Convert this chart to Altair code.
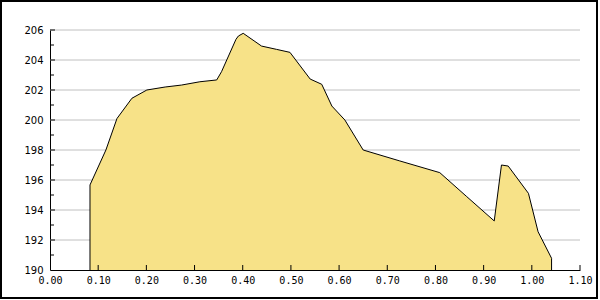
import altair as alt
import pandas as pd

# Profile data
xs = [0.083, 0.083, 0.116, 0.139, 0.170, 0.201, 0.239, 0.273, 0.311, 0.346,
      0.356, 0.386, 0.391, 0.401, 0.439, 0.470, 0.498, 0.540, 0.564, 0.585,
      0.612, 0.650, 0.726, 0.809, 0.865, 0.922, 0.937, 0.951, 0.993, 1.013,
      1.041, 1.041]
ys = [190.0, 195.67, 198.0, 200.1, 201.45, 202.0, 202.2, 202.33, 202.55, 202.67,
      203.22, 205.38, 205.6, 205.78, 204.93, 204.71, 204.51, 202.73, 202.38, 200.93,
      200.0, 198.0, 197.27, 196.49, 194.89, 193.27, 197.0, 196.93, 195.11, 192.55,
      190.78, 190.0]

x_ticks = [0.0, 0.1, 0.2, 0.3, 0.4, 0.5, 0.6, 0.7, 0.8, 0.9, 1.0, 1.1]
y_major = [190, 192, 194, 196, 198, 200, 202, 204, 206]
y_minor = [191, 193, 195, 197, 199, 201, 203, 205]

df = pd.DataFrame({"x": xs, "y": ys, "idx": list(range(len(xs)))})
df_xt = pd.DataFrame({"x": x_ticks[1:]})
df_ymaj = pd.DataFrame({"y": y_major[1:]})
df_ymin = pd.DataFrame({"y": y_minor})

xscale = alt.Scale(domain=[0, 1.1], nice=False, zero=False)
yscale = alt.Scale(domain=[190, 206], nice=False, zero=False)

xaxis = alt.Axis(values=x_ticks, format=".2f", title=None)
yaxis = alt.Axis(values=y_major, format="d", title=None)

grid = alt.Chart(df_ymaj).mark_rule(color="#c0c0c0", strokeWidth=1).encode(
    y=alt.Y("y:Q", scale=yscale, axis=yaxis), x=alt.value(0), x2=alt.value(530)
)

area = alt.Chart(df).mark_area(color="#F7E288", opacity=1).encode(
    x=alt.X("x:Q", scale=xscale, axis=xaxis),
    y=alt.Y("y:Q", scale=yscale, axis=yaxis),
    y2=alt.datum(190),
)

line = alt.Chart(df).mark_line(color="black", strokeWidth=1).encode(
    x=alt.X("x:Q", scale=xscale, axis=xaxis),
    y=alt.Y("y:Q", scale=yscale, axis=yaxis),
    order="idx:Q",
)

xt = alt.Chart(df_xt).mark_rule(color="black", strokeWidth=1).encode(
    x=alt.X("x:Q", scale=xscale, axis=xaxis), y=alt.value(240), y2=alt.value(235)
)
ymaj = alt.Chart(df_ymaj).mark_rule(color="black", strokeWidth=1).encode(
    y=alt.Y("y:Q", scale=yscale, axis=yaxis), x=alt.value(0), x2=alt.value(5)
)
ymin = alt.Chart(df_ymin).mark_rule(color="black", strokeWidth=1).encode(
    y=alt.Y("y:Q", scale=yscale, axis=yaxis), x=alt.value(0), x2=alt.value(4)
)

border = alt.Chart(pd.DataFrame({"a": [0]})).mark_rect(
    fill=None, stroke="black", strokeWidth=2
).encode(
    x=alt.value(-49), x2=alt.value(547), y=alt.value(-29), y2=alt.value(268)
)

chart = alt.layer(grid, area, line, xt, ymaj, ymin, border).properties(
    width=530, height=240,
    autosize=alt.AutoSizeParams(type="none"),
    padding={"left": 50, "top": 30, "right": 20, "bottom": 30},
    background="white",
).configure_view(
    stroke=None
).configure_axis(
    ticks=False, grid=False, labelColor="black", domainColor="black",
    labelOverlap=False, labelFlush=False, zindex=1, labelFontSize=10,
).configure_axisX(
    labelFont="DejaVu Sans Mono", labelPadding=5,
).configure_axisY(
    labelFont="DejaVu Sans", labelPadding=7,
)

chart.save("out.html", embed_options={"renderer": "svg", "actions": False})
